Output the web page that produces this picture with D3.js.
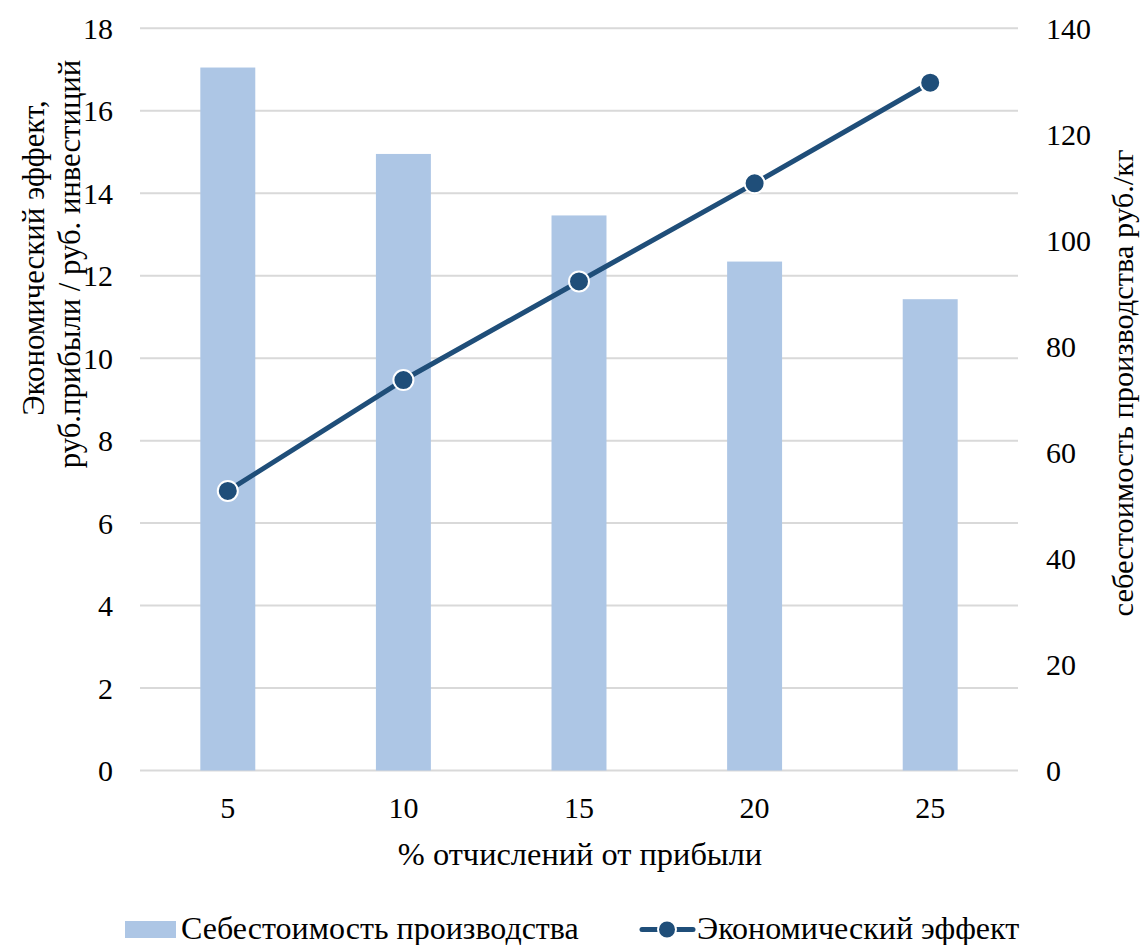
<!DOCTYPE html>
<html>
<head>
<meta charset="utf-8">
<script src="https://cdn.jsdelivr.net/npm/d3@7/dist/d3.min.js"></script>
<style>
  html, body { margin: 0; padding: 0; background: #fff; }
</style>
</head>
<body>
<svg id="chart" width="1141" height="945"></svg>
<script>
// Categories: percent of profit allocated
const categories = ["5", "10", "15", "20", "25"];
// Production cost, rub/kg (right axis, bars)
const costValues = [132.6, 116.3, 104.7, 96.0, 88.9];
// Economic effect, rub profit / rub investment (left axis, line)
const effectValues = [6.78, 9.47, 11.86, 14.24, 16.68];
const leftTicks = [0, 2, 4, 6, 8, 10, 12, 14, 16, 18];
const rightTicks = [0, 20, 40, 60, 80, 100, 120, 140];

const barColor = "#ADC6E5";
const lineColor = "#1F4E79";
const gridColor = "#D9D9D9";
const FS = 30;

const svg = d3.select("#chart");
const margin = { left: 140, right: 123, top: 28.3, bottom: 174.5 };
const W = 1141, H = 945;
const x0 = margin.left, x1 = W - margin.right;
const y0 = H - margin.bottom, y1 = margin.top;

const x = d3.scaleBand().domain(categories).range([x0, x1]).paddingInner(0.687).paddingOuter(0.3435);
const yL = d3.scaleLinear().domain([0, 18]).range([y0, y1]);
const yR = d3.scaleLinear().domain([0, 140]).range([y0, y1]);

function label(sel, size) {
  return sel.style("font-family", "'Liberation Serif'")
    .attr("font-size", size).attr("fill", "#000");
}

// Horizontal gridlines
svg.append("g").selectAll("line").data(leftTicks).join("line")
  .attr("x1", x0).attr("x2", x1)
  .attr("y1", d => yL(d)).attr("y2", d => yL(d))
  .attr("stroke", gridColor).attr("stroke-width", 2);

// Bars: production cost
svg.append("g").selectAll("rect").data(costValues).join("rect")
  .attr("x", (d, i) => x(categories[i]))
  .attr("width", x.bandwidth())
  .attr("y", d => yR(d))
  .attr("height", d => y0 - yR(d))
  .attr("fill", barColor);

// Left axis labels
label(svg.append("g").selectAll("text").data(leftTicks).join("text"), FS)
  .attr("x", 113).attr("y", d => yL(d))
  .attr("dy", "0.35em").attr("text-anchor", "end")
  .text(d => d);

// Right axis labels
label(svg.append("g").selectAll("text").data(rightTicks).join("text"), FS)
  .attr("x", 1046).attr("y", d => yR(d))
  .attr("dy", "0.35em").attr("text-anchor", "start")
  .text(d => d);

// Category labels
label(svg.append("g").selectAll("text").data(categories).join("text"), FS)
  .attr("x", d => x(d) + x.bandwidth() / 2).attr("y", 818)
  .attr("text-anchor", "middle").text(d => d);

// Line: economic effect
const line = d3.line()
  .x((d, i) => x(categories[i]) + x.bandwidth() / 2)
  .y(d => yL(d));
svg.append("path").datum(effectValues)
  .attr("d", line).attr("fill", "none")
  .attr("stroke", lineColor).attr("stroke-width", 5)
  .attr("stroke-linejoin", "round");
svg.append("g").selectAll("circle").data(effectValues).join("circle")
  .attr("cx", (d, i) => x(categories[i]) + x.bandwidth() / 2)
  .attr("cy", d => yL(d))
  .attr("r", 10).attr("fill", lineColor)
  .attr("stroke", "#fff").attr("stroke-width", 2);

// Axis titles
label(svg.append("text"), 30.8)
  .attr("transform", "translate(44,258) rotate(-90)")
  .attr("text-anchor", "middle")
  .text("Экономический эффект,");
label(svg.append("text"), 30.7)
  .attr("transform", "translate(80,264) rotate(-90)")
  .attr("text-anchor", "middle")
  .text("руб.прибыли / руб. инвестиций");
label(svg.append("text"), 30.4)
  .attr("transform", "translate(1133,383) rotate(-90)")
  .attr("text-anchor", "middle")
  .text("себестоимость производства руб./кг");
label(svg.append("text"), 32.4)
  .attr("x", 580).attr("y", 865)
  .attr("text-anchor", "middle")
  .text("% отчислений от прибыли");

// Legend
const leg = svg.append("g");
leg.append("rect").attr("x", 125).attr("y", 921).attr("width", 51).attr("height", 17).attr("fill", barColor);
label(leg.append("text"), 32).attr("x", 181).attr("y", 939).text("Себестоимость производства");
leg.append("line").attr("x1", 642).attr("x2", 693).attr("y1", 929.5).attr("y2", 929.5)
  .attr("stroke", lineColor).attr("stroke-width", 5).attr("stroke-linecap", "round");
leg.append("circle").attr("cx", 667).attr("cy", 929.5).attr("r", 9)
  .attr("fill", lineColor).attr("stroke", "#fff").attr("stroke-width", 2);
label(leg.append("text"), 32).attr("x", 697).attr("y", 939).text("Экономический эффект");
</script>
</body>
</html>
